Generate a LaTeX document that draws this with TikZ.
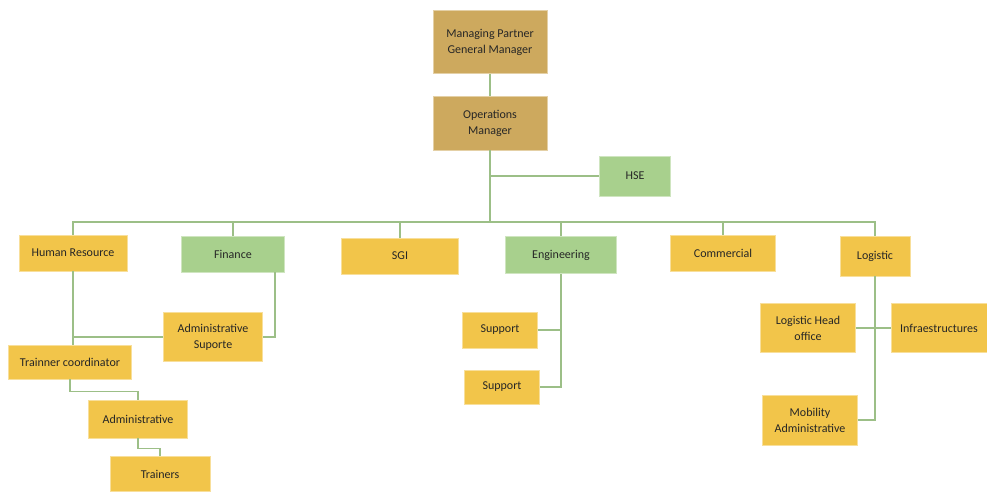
\documentclass[tikz,border=0pt]{standalone}
\usepackage{fontspec}
\setmainfont{Carlito}
\usepackage{tikz}
\usetikzlibrary{positioning,calc}
\definecolor{mgrtan}{HTML}{CDA95E}
\definecolor{deptgreen}{HTML}{A8D08D}
\definecolor{deptyellow}{HTML}{F2C54A}
\definecolor{linkgreen}{HTML}{9CBF87}
\tikzset{
  unit/.style={draw=#1!55!white,fill=#1,line width=0.8pt,align=center,inner sep=2pt,
    font=\fontsize{12}{16}\selectfont,text=black!85},
  link/.style={draw=linkgreen,line width=1.4pt},
}

\begin{document}
\begin{tikzpicture}[
  box/.style 2 args={unit=#1,minimum width=#2},
  x=1pt,y=-1pt]
  \useasboundingbox (0,0) rectangle (987,492);
  % management
  \node[box={mgrtan}{114pt},minimum height=63pt] (gm) at (490,42) {Managing Partner\\General Manager};
  \node[box={mgrtan}{114pt},minimum height=54pt] (ops) at (490,123) {Operations\\Manager};
  \node[box={deptgreen}{71pt},minimum height=40pt] (hse) at (635,176) {HSE};
  % departments
  \node[box={deptyellow}{108pt},minimum height=36pt] (hr) at (73,253) {Human Resource};
  \node[box={deptgreen}{103pt},minimum height=36pt] (fin) at (233,254) {Finance};
  \node[box={deptyellow}{117pt},minimum height=36pt] (sgi) at (400,256) {SGI};
  \node[box={deptgreen}{111pt},minimum height=37pt] (eng) at (561,255) {Engineering};
  \node[box={deptyellow}{105pt},minimum height=36pt] (com) at (723,253) {Commercial};
  \node[box={deptyellow}{70pt},minimum height=40pt] (log) at (875,256) {Logistic};
  % human resource / finance
  \node[box={deptyellow}{99pt},minimum height=49pt] (admsup) at (213,337) {Administrative\\Suporte};
  \node[box={deptyellow}{123pt},minimum height=34pt] (tc) at (70,362) {Trainner coordinator};
  \node[box={deptyellow}{99pt},minimum height=38pt] (adm) at (138,419) {Administrative};
  \node[box={deptyellow}{100pt},minimum height=35pt] (trn) at (160,474) {Trainers};
  % engineering
  \node[box={deptyellow}{75pt},minimum height=36pt] (sup1) at (500,330) {Support};
  \node[box={deptyellow}{75pt},minimum height=34pt] (sup2) at (502,387) {Support};
  % logistic
  \node[box={deptyellow}{95pt},minimum height=49pt] (lho) at (808,328) {Logistic Head\\office};
  \node[box={deptyellow}{96pt},minimum height=49pt] (inf) at (939,328) {Infraestructures};
  \node[box={deptyellow}{95pt},minimum height=50pt] (mob) at (810,420) {Mobility\\Administrative};
  % connectors
  \coordinate (bus) at (490,222);
  \draw[link] (gm) -- (ops);
  \draw[link] (ops.south) -- (bus);
  \draw[link] (ops.south |- hse.west) -- (hse.west);
  \draw[link] (hr.north) |- (bus) -| (log.north);
  \foreach \d in {fin,sgi,eng,com}
    \draw[link] (\d.north) -- (\d.north |- bus);
  \draw[link] (hr.south) -- (hr.south |- tc.north);
  \draw[link] (admsup.west) -- (admsup.west -| hr.south);
  \draw[link] ($(fin.south east)+(-10,0)$) |- (admsup.east);
  \draw[link] (tc.south) -- ++(0,12) -| (adm.north);
  \draw[link] (adm.south) -- ++(0,10) -| (trn.north);
  \draw[link] (eng.south) |- (sup2.east);
  \draw[link] (sup1.east) -- (sup1.east -| eng.south);
  \draw[link] (log.south) |- (mob.east);
  \draw[link] (lho.east) -- (inf.west);
\end{tikzpicture}
\end{document}
